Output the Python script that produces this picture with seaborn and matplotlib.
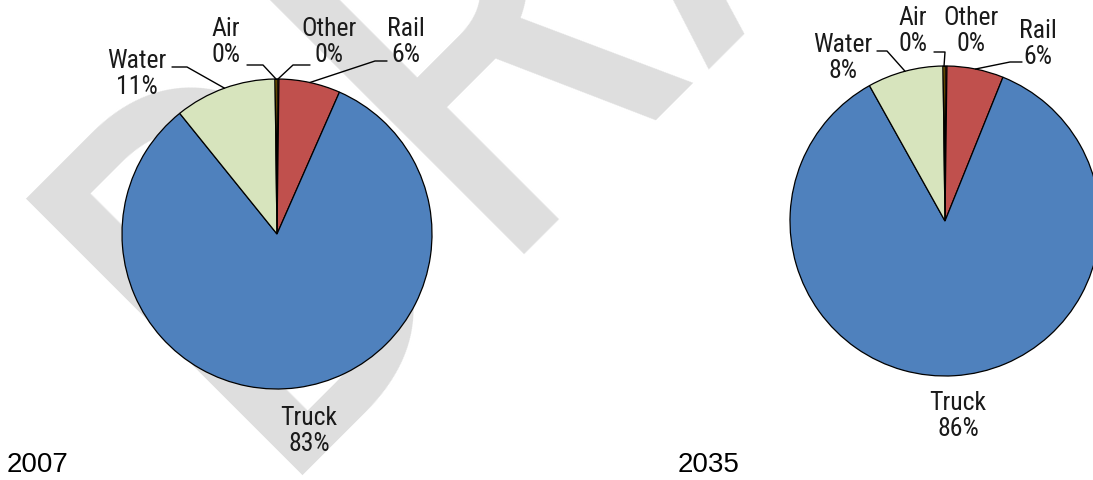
import matplotlib
matplotlib.use("Agg")
import matplotlib.pyplot as plt
from matplotlib import font_manager
import numpy as np
import seaborn as sns

# ---------------- data ----------------
modes = ["Other", "Rail", "Truck", "Water", "Air"]
share_2007 = [0.2, 6.4, 82.6, 10.6, 0.2]
share_2035 = [0.2, 5.9, 85.8, 7.9, 0.2]
years = ["2007", "2035"]
mode_colors = ["#F79646", "#C0504D", "#4F81BD", "#D7E4BD", "#FFC000"]
watermark = "DRAFT"

sns.set_theme(style="white")

# pick a condensed sans font if one is installed
fonts = font_manager.fontManager.ttflist
names = {f.name for f in fonts}
narrow_family, narrow_stretch = None, "normal"
for n in ["Liberation Sans Narrow", "Arial Narrow", "Roboto Condensed",
          "Noto Sans Condensed", "Open Sans Condensed", "DejaVu Sans Condensed"]:
    if n in names:
        narrow_family = n
        break
if narrow_family is None:
    for pref in ["Noto Sans", "Open Sans", "Roboto", "DejaVu Sans", "Liberation Sans"]:
        cands = [f for f in fonts if f.name == pref and f.stretch in
                 ("condensed", "semi-condensed", "extra-condensed", 300, 400, 200)]
        if cands:
            narrow_family, narrow_stretch = pref, "condensed"
            break
if narrow_family is None:
    narrow_family = "Roboto"

plt.rcParams["font.family"] = [narrow_family, "Roboto", "DejaVu Sans"]

W, H = 1093, 481
fig = plt.figure(figsize=(W / 100, H / 100), dpi=100)
fig.patch.set_facecolor("white")


def fx(px):
    return px / W


def fy(py):
    return 1 - py / H


# watermark
fig.text(fx(261), fy(475), watermark, rotation=45, rotation_mode="anchor",
         ha="left", va="baseline", fontsize=396, color="#DEDEDE", zorder=-5,
         fontstretch=narrow_stretch)

R = 155
pies = [
    dict(values=share_2007, center=(277, 235), year_x=7,
         label_pos={"Air": (226, 42), "Other": (329, 42), "Rail": (406, 42),
                    "Water": (137, 74), "Truck": (309, 431)},
         leaders={"Water": [(172, 68), (187, 68)], "Air": [(247, 66), (263, 66)],
                  "Other": [(310, 66), (293, 66)], "Rail": [(387, 62), (375, 62)]}),
    dict(values=share_2035, center=(945, 222), year_x=678,
         label_pos={"Air": (913, 31), "Other": (971, 31), "Rail": (1038, 44),
                    "Water": (843, 58), "Truck": (958, 416)},
         leaders={"Water": [(877, 52), (887, 52)], "Air": [(934, 53), (945, 53)],
                  "Rail": [(1022, 63), (1010, 63)]}),
]

for year, p in zip(years, pies):
    cx, cy = p["center"]
    ax = fig.add_axes([fx(cx - R), fy(cy + R), 2 * R / W, 2 * R / H])
    wedges, _ = ax.pie(p["values"], colors=mode_colors, startangle=90,
                       counterclock=False, radius=1,
                       wedgeprops=dict(edgecolor="black", linewidth=0.9))
    ax.set_xlim(-1, 1)
    ax.set_ylim(-1, 1)
    ax.set_aspect("auto")
    ax.axis("off")
    for w, name, v in zip(wedges, modes, p["values"]):
        lx, ly = p["label_pos"][name]
        fig.text(fx(lx), fy(ly), f"{name}\n{round(v):.0f}%", ha="center",
                 va="center", multialignment="center", fontsize=18.5,
                 fontstretch=narrow_stretch,
                 color="#1a1a1a", linespacing=1.15)
        if name in p["leaders"]:
            mid = np.deg2rad((w.theta1 + w.theta2) / 2)
            tip = ax.transData.transform((np.cos(mid), np.sin(mid)))
            tip = fig.transFigure.inverted().transform(tip)
            pts = [(fx(a), fy(b)) for a, b in p["leaders"][name]] + [tuple(tip)]
            xs, ys = zip(*pts)
            fig.add_artist(plt.Line2D(xs, ys, color="black", lw=1.0,
                                      transform=fig.transFigure, zorder=5))
    fig.text(fx(p["year_x"]), fy(465), year, ha="left", va="center",
             fontsize=20, color="black", family=["Liberation Sans", "DejaVu Sans"])

fig.savefig("out.png", dpi=100)
